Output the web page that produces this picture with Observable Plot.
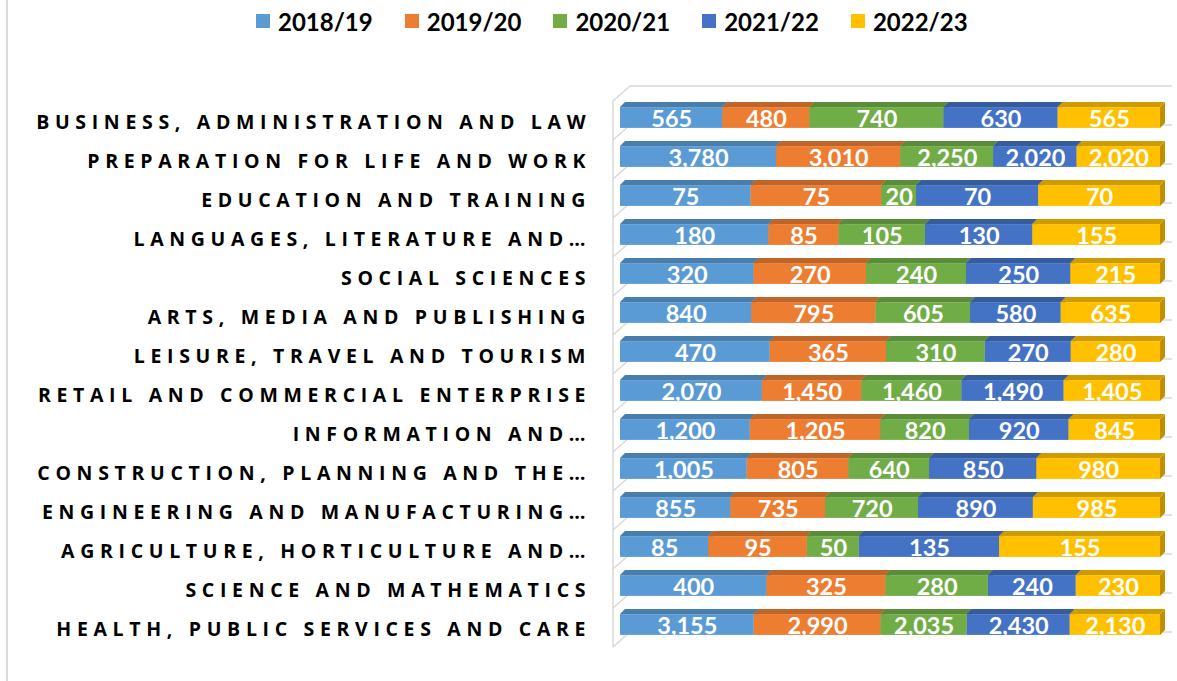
<!DOCTYPE html>
<html>
<head>
<meta charset="utf-8">
<script src="https://cdn.jsdelivr.net/npm/d3@7"></script>
<script src="https://cdn.jsdelivr.net/npm/@observablehq/plot@0.6"></script>
<style>
  body { margin: 0; background: #fff; }
  #wrap { position: relative; width: 1177px; height: 681px; overflow: hidden; font-family: Lato, "Open Sans", sans-serif; }
  #border { position: absolute; left: 6px; top: 0; width: 2px; height: 681px; background: #d9d9d9; }
  #legend { position: absolute; top: 6px; left: 256px; display: flex; align-items: center; height: 30px; }
  .item { display: flex; align-items: center; margin-right: 32px; font-weight: bold; font-size: 24px; color: #000; }
  .sw { width: 14px; height: 14px; margin-right: 8px; }
  #chart { position: absolute; top: 0; left: 0; }
  g[aria-label="y-axis tick label"] text { font-family: "Open Sans", Lato, sans-serif; }
</style>
</head>
<body>
<div id="wrap">
  <div id="border"></div>
  <div id="chart"></div>
  <div id="legend"></div>
</div>
<script>
const categories = [
  "BUSINESS, ADMINISTRATION AND LAW",
  "PREPARATION FOR LIFE AND WORK",
  "EDUCATION AND TRAINING",
  "LANGUAGES, LITERATURE AND…",
  "SOCIAL SCIENCES",
  "ARTS, MEDIA AND PUBLISHING",
  "LEISURE, TRAVEL AND TOURISM",
  "RETAIL AND COMMERCIAL ENTERPRISE",
  "INFORMATION AND…",
  "CONSTRUCTION, PLANNING AND THE…",
  "ENGINEERING AND MANUFACTURING…",
  "AGRICULTURE, HORTICULTURE AND…",
  "SCIENCE AND MATHEMATICS",
  "HEALTH, PUBLIC SERVICES AND CARE"
];
const seasons = ["2018/19", "2019/20", "2020/21", "2021/22", "2022/23"];
const v2018_19 = [565, 3780, 75, 180, 320, 840, 470, 2070, 1200, 1005, 855, 85, 400, 3155];
const v2019_20 = [480, 3010, 75, 85, 270, 795, 365, 1450, 1205, 805, 735, 95, 325, 2990];
const v2020_21 = [740, 2250, 20, 105, 240, 605, 310, 1460, 820, 640, 720, 50, 280, 2035];
const v2021_22 = [630, 2020, 70, 130, 250, 580, 270, 1490, 920, 850, 890, 135, 240, 2430];
const v2022_23 = [565, 2020, 70, 155, 215, 635, 280, 1405, 845, 980, 985, 155, 230, 2130];
const colors = ["#5B9BD5", "#ED7D31", "#70AD47", "#4472C4", "#FFC000"];

const seriesValues = [v2018_19, v2019_20, v2020_21, v2021_22, v2022_23];
const data = seasons.flatMap((s, j) => categories.map((c, i) => ({cat: c, season: s, value: seriesValues[j][i]})));
const fmt = d3.format(",");

const INSET = 9.1;
const DEPTH = 5;
const NS = "http://www.w3.org/2000/svg";

function faces(index, scales, values, dimensions, context) {
  const g = context.document.createElementNS(NS, "g");
  const bw = scales.y.bandwidth();
  const rights = [], tops = [];
  for (const i of index) {
    const x1 = values.x1[i], x2 = values.x2[i];
    const y = values.y[i] + INSET, h = bw - 2 * INSET;
    const c = d3.color(values.fill[i]).darker(0.6).formatHex();
    const cr = d3.color(values.fill[i]).darker(0.8).formatHex();
    rights.push([`M${x2},${y}L${x2 + DEPTH},${y - DEPTH}L${x2 + DEPTH},${y + h - DEPTH}L${x2},${y + h}Z`, cr]);
    tops.push([`M${x1},${y}L${x1 + DEPTH},${y - DEPTH}L${x2 + DEPTH},${y - DEPTH}L${x2},${y}Z`, c]);
  }
  for (const [d, f] of rights.concat(tops)) {
    const p = context.document.createElementNS(NS, "path");
    p.setAttribute("d", d);
    p.setAttribute("fill", f);
    g.appendChild(p);
  }
  return g;
}

function wall(index, scales, values, dimensions, context) {
  const g = context.document.createElementNS(NS, "g");
  g.setAttribute("stroke", "#d9d9d9");
  g.setAttribute("stroke-width", "1.5");
  g.setAttribute("fill", "none");
  const bw = scales.y.bandwidth();
  const bounds = categories.map(c => scales.y(c));
  bounds.push(bounds[bounds.length - 1] + bw);
  const xL = dimensions.marginLeft - 7;
  let d = `M${xL},${bounds[0] + 3}L${xL},${bounds[bounds.length - 1] + 3}`;
  for (const b of bounds) {
    d += `M${xL},${b + 3}L${xL + 17},${b - 12}L${dimensions.width - 5},${b - 12}`;
  }
  const p = context.document.createElementNS(NS, "path");
  p.setAttribute("d", d);
  g.appendChild(p);
  return g;
}

const stackOpts = {offset: "normalize", x: "value", y: "cat", fill: "season"};

const chart = Plot.plot({
  width: 1177,
  height: 681,
  marginLeft: 620,
  marginRight: 17,
  marginTop: 95.9,
  marginBottom: 35.9,
  style: {fontFamily: "Lato, 'Open Sans', sans-serif", background: "transparent"},
  x: {axis: null, domain: [0, 1]},
  y: {domain: categories, padding: 0, label: null, axis: null},
  color: {domain: seasons, range: colors},
  marks: [
    Plot.ruleY(categories, {y: d => d, render: wall}),
    Plot.barX(data, Plot.stackX({...stackOpts, insetTop: INSET, insetBottom: INSET, render: faces})),
    Plot.barX(data, Plot.stackX({...stackOpts, insetTop: INSET, insetBottom: INSET})),
    Plot.text(data, Plot.stackX({offset: "normalize", x: "value", y: "cat", z: "season", text: d => fmt(d.value), fill: "white", fontSize: 23.5, fontWeight: "bold", dy: 1})),
    Plot.axisY({tickSize: 0, tickPadding: 35, fontSize: 19.5, fontWeight: "bold", dy: 5, fill: "#000", label: null})
  ]
});
document.getElementById("chart").appendChild(chart);

// letter-spacing of category labels to match the reference width
const labelTexts = chart.querySelectorAll('g[aria-label="y-axis tick label"] text');
if (labelTexts.length) {
  const w0 = labelTexts[0].getComputedTextLength();
  const n = labelTexts[0].textContent.length;
  const s = Math.max(0, (555 - w0) / n);
  labelTexts.forEach(t => t.style.letterSpacing = s + "px");
  const g = labelTexts[0].parentNode;
  g.setAttribute("transform", (g.getAttribute("transform") || "") + ` translate(${s},0)`);
}

const legend = document.getElementById("legend");
seasons.forEach((s, j) => {
  const it = document.createElement("div");
  it.className = "item";
  const sw = document.createElement("div");
  sw.className = "sw";
  sw.style.background = colors[j];
  it.appendChild(sw);
  it.appendChild(document.createTextNode(s));
  legend.appendChild(it);
});
</script>
</body>
</html>
